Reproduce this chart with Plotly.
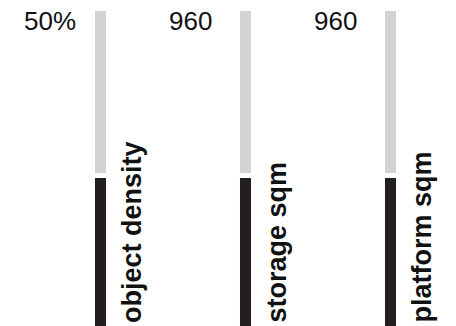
import plotly.graph_objects as go

categories = ["object density", "storage sqm", "platform sqm"]
value_labels = ["50%", "960", "960"]
values = [50, 960, 960]
maxima = [100, 1920, 1920]

fractions = [v / m for v, m in zip(values, maxima)]
remainders = [1 - f for f in fractions]
positions = list(range(len(categories)))

GAP = 0.0076  # half the white gap between the two parts, in bar units
BAR_W = 0.076
FONT = 'Liberation Sans, Arial, sans-serif'

fig = go.Figure()

# dark filled part (value)
fig.add_trace(go.Bar(
    x=positions,
    y=[f - GAP for f in fractions],
    base=0,
    width=BAR_W,
    marker=dict(color='#231f20', line=dict(width=0)),
    hoverinfo='skip',
))

# light remainder
fig.add_trace(go.Bar(
    x=positions,
    y=[r - GAP for r in remainders],
    base=[f + GAP for f in fractions],
    width=BAR_W,
    marker=dict(color='#d3d3d3', line=dict(width=0)),
    hoverinfo='skip',
))

for i, (cat, lab) in enumerate(zip(categories, value_labels)):
    fig.add_annotation(
        x=i - 0.541, y=0.970, text=lab, showarrow=False,
        xanchor='left', yanchor='middle',
        font=dict(family=FONT, size=26, color='#111111'),
    )
    fig.add_annotation(
        x=i + 0.218, y=0.0456, text='<b>' + cat + '</b>', showarrow=False,
        textangle=-90, xanchor='center', yanchor='bottom',
        font=dict(family=FONT, size=27, color='#111111'),
    )

fig.update_layout(
    width=456, height=326,
    margin=dict(l=0, r=0, t=0, b=0),
    barmode='overlay',
    showlegend=False,
    paper_bgcolor='white',
    plot_bgcolor='white',
    xaxis=dict(range=[-0.638, 2.507], visible=False, fixedrange=True),
    yaxis=dict(range=[0.0182, 1.0091], visible=False, fixedrange=True),
)

fig.write_html("out.html")
